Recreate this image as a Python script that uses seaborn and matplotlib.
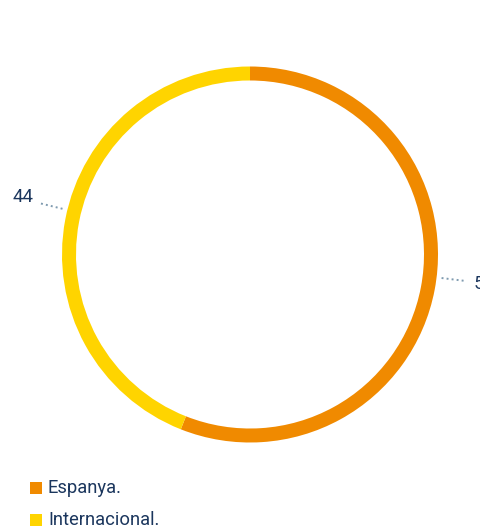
import matplotlib.pyplot as plt
import seaborn as sns
import numpy as np

# data
categories = ["Espanya.", "Internacional."]
values = [56, 44]
colors = ["#F08A00", "#FFD400"]

sns.set_style("white")
plt.rcParams['font.family'] = ['Roboto', 'DejaVu Sans']

W, H = 481, 529
fig = plt.figure(figsize=(W / 100, H / 100), dpi=100)
ax = fig.add_axes([0, 0, 1, 1])

cx, cy, r = 250, H - 254.5, 188
wedges, _ = ax.pie(values, colors=colors, startangle=90, counterclock=False,
                   center=(cx, cy), radius=r, frame=True,
                   wedgeprops=dict(width=14, edgecolor='none'))
ax.set_xlim(0, W)
ax.set_ylim(0, H)
ax.set_aspect('equal')
ax.axis('off')

text_col = "#1B365D"
dot_col = "#7F9BB0"

# leaders sit a little off the wedge middle in the original
shift = [3.8, -2.9]

total = sum(values)
start = 90
for w, v, s in zip(wedges, values, shift):
    mid = np.deg2rad(start - 360 * v / total / 2 + s)
    start -= 360 * v / total
    x0, y0 = cx + 193 * np.cos(mid), cy + 193 * np.sin(mid)
    x1, y1 = cx + 218 * np.cos(mid), cy + 218 * np.sin(mid)
    ax.plot([x0, x1], [y0, y1], linestyle=(0, (1, 1.6)), color=dot_col, lw=1.4)
    if np.cos(mid) > 0:
        ax.text(x1 + 7, y1 - 2.5, str(v), ha='left', va='center', fontsize=13.5,
                color=text_col, clip_on=False)
    else:
        ax.text(x1 - 5, y1 + 5.5, str(v), ha='right', va='center', fontsize=13.5,
                color=text_col, clip_on=False)

# legend
for i, (c, lab) in enumerate(zip(colors, categories)):
    yl = H - (488 + 32 * i)
    ax.add_patch(plt.Rectangle((30, yl - 6), 12, 12, color=c, lw=0))
    ax.text(48, yl, lab, ha='left', va='center', fontsize=13.2,
            color=text_col)

fig.savefig("out.png", dpi=100)
